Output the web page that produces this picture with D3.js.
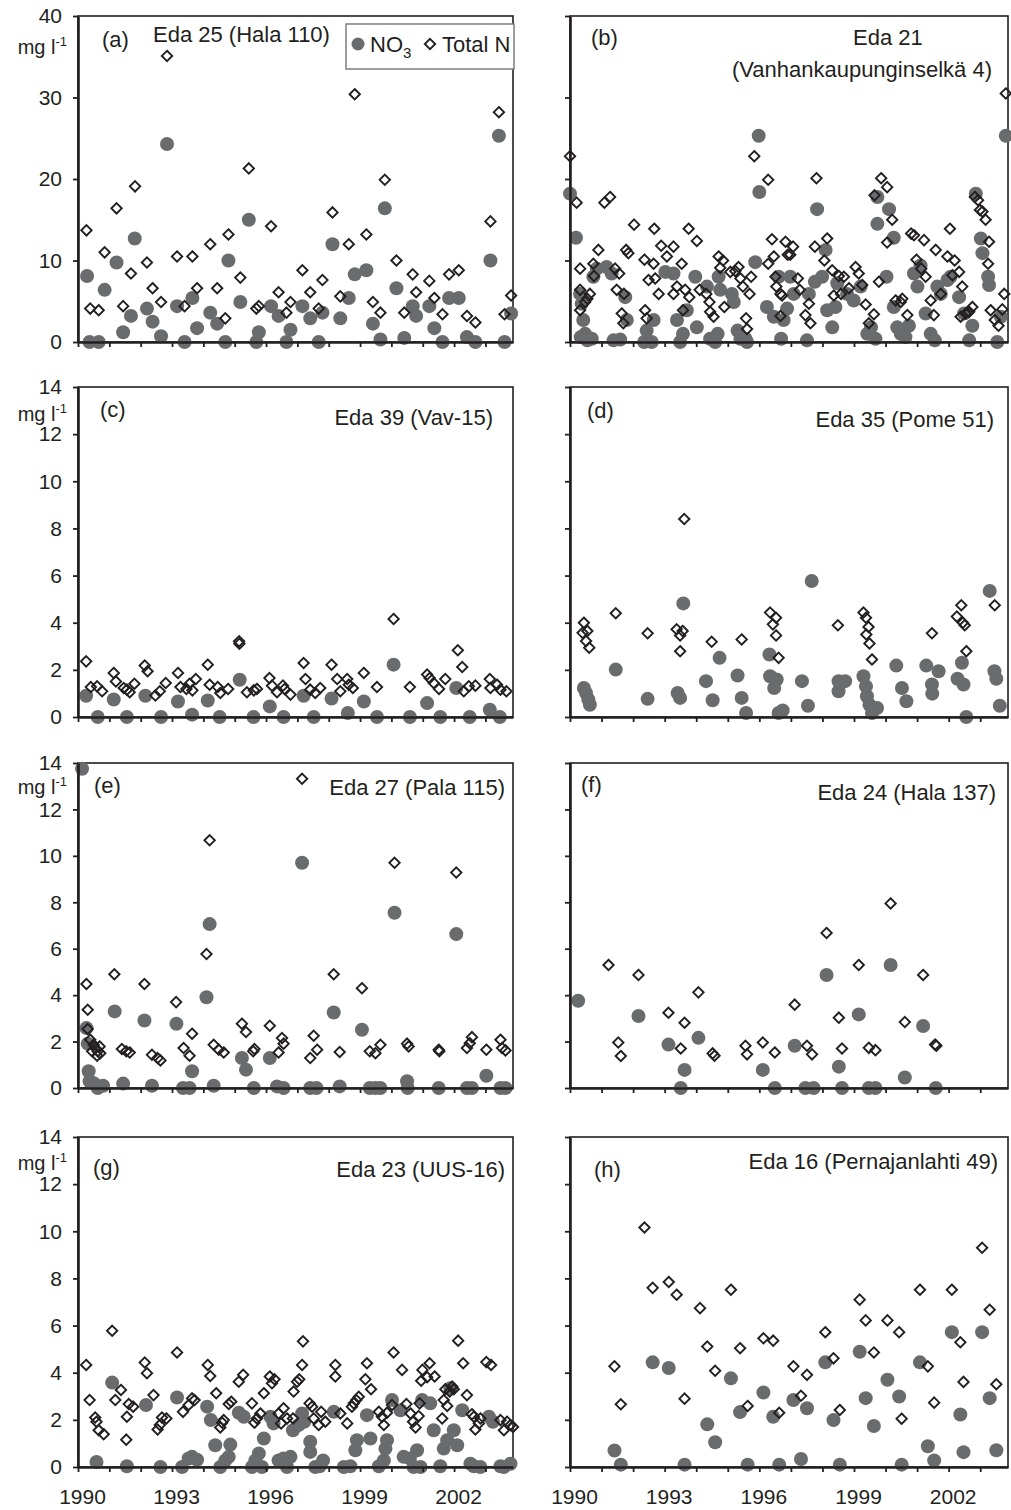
<!DOCTYPE html>
<html>
<head>
<meta charset="utf-8">
<script src="https://cdn.jsdelivr.net/npm/d3@7"></script>
<style>
  body { margin: 0; background: #fff; }
  text { font-family: "Liberation Sans", Arial, sans-serif; fill: #231f20; }
</style>
</head>
<body>
<svg id="chart" width="1011" height="1510"></svg>
<script>
/*
 * NO3 and total N concentrations at eight stations, 1990-2003.
 * Each series is a list of [decimal year, mg/l] pairs.
 */

var yearTicks = [1990, 1991, 1992, 1993, 1994, 1995, 1996, 1997, 1998, 1999, 2000, 2001, 2002, 2003];
var yearLabels = [1990, 1993, 1996, 1999, 2002];
var ticksBig = [0, 10, 20, 30, 40];
var ticksSmall = [0, 2, 4, 6, 8, 10, 12, 14];

// (a) Eda 25 (Hala 110)
var a_no3 = [[1990.29,8.1],[1990.37,0],[1990.66,0],[1990.85,6.4],[1991.23,9.75],[1991.44,1.2],[1991.69,3.2],[1991.81,12.7],[1992.2,4.1],[1992.38,2.5],[1992.65,0.7],[1992.84,24.3],[1993.16,4.4],[1993.4,0],[1993.65,5.4],[1993.8,1.7],[1994.22,3.6],[1994.44,2.25],[1994.7,0],[1994.8,10.0],[1995.18,4.9],[1995.45,15.0],[1995.69,0],[1995.77,1.2],[1996.16,4.4],[1996.4,3.2],[1996.65,0],[1996.78,1.5],[1997.16,4.4],[1997.41,2.9],[1997.68,0],[1997.8,3.6],[1998.12,12.0],[1998.37,2.9],[1998.64,5.4],[1998.83,8.3],[1999.2,8.8],[1999.41,2.25],[1999.65,0.3],[1999.79,16.4],[2000.16,6.6],[2000.41,0.5],[2000.68,4.4],[2000.79,3.2],[2001.21,4.4],[2001.37,1.7],[2001.63,0],[2001.84,5.4],[2002.15,5.4],[2002.41,0.6],[2002.68,0],[2003.16,10.0],[2003.43,25.3],[2003.61,0],[2003.82,3.5]];
var a_tn = [[1990.27,13.7],[1990.39,4.1],[1990.66,3.9],[1990.85,11.0],[1991.23,16.4],[1991.44,4.4],[1991.69,8.4],[1991.82,19.1],[1992.2,9.75],[1992.38,6.6],[1992.65,4.9],[1992.84,35.1],[1993.16,10.5],[1993.4,4.4],[1993.65,10.5],[1993.8,6.6],[1994.22,12.0],[1994.44,6.6],[1994.7,2.9],[1994.8,13.2],[1995.18,7.9],[1995.45,21.3],[1995.69,4.1],[1995.77,4.4],[1996.16,14.2],[1996.4,6.1],[1996.65,3.6],[1996.78,4.9],[1997.16,8.8],[1997.41,6.1],[1997.68,4.1],[1997.8,7.6],[1998.12,15.9],[1998.37,5.6],[1998.64,12.0],[1998.83,30.4],[1999.2,13.2],[1999.41,4.9],[1999.65,3.6],[1999.79,19.9],[2000.16,10.0],[2000.41,3.6],[2000.68,8.3],[2000.79,6.1],[2001.21,7.5],[2001.37,5.4],[2001.63,3.4],[2001.84,8.3],[2002.15,8.8],[2002.41,3.2],[2002.68,2.4],[2003.16,14.8],[2003.43,28.2],[2003.61,3.4],[2003.82,5.7]];

// (b) Eda 21 (Vanhankaupunginselkä 4)
var b_no3 = [[1990.0,18.2],[1990.19,12.8],[1990.32,5.9],[1990.37,4.7],[1990.42,2.7],[1990.48,1.0],[1990.34,0.6],[1990.55,0.2],[1990.69,0.4],[1990.74,8.0],[1990.85,9.0],[1991.16,9.2],[1991.32,8.4],[1991.38,0.2],[1991.59,0.3],[1991.8,2.7],[1991.75,5.5],[1992.35,0],[1992.43,1.4],[1992.59,0],[1992.65,2.7],[1993.02,8.6],[1993.28,8.4],[1993.39,2.7],[1993.49,0],[1993.58,1.0],[1993.7,3.9],[1993.97,8.0],[1994.02,1.8],[1994.34,6.8],[1994.44,0.4],[1994.6,0],[1994.68,1.0],[1994.71,8.0],[1994.76,6.4],[1995.13,5.9],[1995.19,4.9],[1995.31,1.4],[1995.4,0.4],[1995.56,0.4],[1995.61,0],[1995.87,9.8],[1995.98,25.3],[1996.0,18.4],[1996.24,4.3],[1996.46,3.1],[1996.61,8.0],[1996.69,0.4],[1996.77,2.7],[1996.88,4.1],[1996.98,8.0],[1997.09,5.9],[1997.51,0.2],[1997.57,5.9],[1997.76,7.4],[1997.83,16.3],[1998.1,11.3],[1997.99,8.0],[1998.15,3.9],[1998.31,1.8],[1998.41,4.3],[1998.47,7.2],[1998.78,5.9],[1998.99,5.1],[1999.21,6.8],[1999.42,1.0],[1999.54,1.8],[1999.68,0.4],[1999.74,14.5],[1999.74,17.8],[2000.03,8.0],[2000.11,16.3],[2000.26,12.8],[2000.26,4.3],[2000.37,1.8],[2000.48,1.0],[2000.63,0.6],[2000.74,2.0],[2000.9,8.4],[2001.01,6.8],[2001.11,9.4],[2001.27,3.5],[2001.43,1.0],[2001.56,0.2],[2001.64,6.8],[2001.75,5.9],[2001.96,7.6],[2002.06,8.0],[2002.33,5.5],[2002.49,3.5],[2002.65,0.2],[2002.75,2.0],[2002.86,18.2],[2003.02,12.7],[2003.07,10.9],[2003.25,8.0],[2003.28,7.0],[2003.54,0],[2003.65,3.1],[2003.81,25.3]];
var b_tn = [[1990.0,22.8],[1990.21,17.1],[1990.32,9.0],[1990.32,6.4],[1990.32,3.9],[1990.48,4.9],[1990.55,5.3],[1990.63,5.9],[1990.74,9.6],[1990.76,8.1],[1990.9,11.3],[1991.09,17.1],[1991.27,17.8],[1991.43,9.0],[1991.48,6.4],[1991.56,8.4],[1991.71,5.9],[1991.64,3.5],[1991.69,2.3],[1991.78,11.3],[1991.85,10.9],[1992.03,14.4],[1992.36,10.1],[1992.38,3.9],[1992.43,2.9],[1992.49,7.6],[1992.65,9.6],[1992.67,13.9],[1992.7,7.8],[1992.81,5.9],[1992.89,11.8],[1993.07,10.5],[1993.28,11.7],[1993.28,5.9],[1993.39,6.8],[1993.54,9.6],[1993.58,3.9],[1993.65,6.4],[1993.76,13.9],[1993.78,5.5],[1994.02,12.4],[1994.11,6.4],[1994.32,5.9],[1994.42,4.9],[1994.44,3.7],[1994.55,3.1],[1994.71,10.5],[1994.76,9.1],[1994.85,10.0],[1994.89,4.3],[1995.08,8.6],[1995.24,8.7],[1995.34,9.2],[1995.4,7.8],[1995.48,6.8],[1995.58,2.9],[1995.61,1.6],[1995.74,8.0],[1995.69,5.9],[1995.84,22.8],[1996.28,19.9],[1996.28,9.6],[1996.4,12.6],[1996.46,10.5],[1996.51,8.0],[1996.54,6.8],[1996.67,5.9],[1996.72,5.7],[1996.67,3.2],[1996.83,12.3],[1996.9,10.7],[1996.98,10.7],[1997.07,11.7],[1997.22,7.8],[1997.28,6.4],[1997.46,3.3],[1997.57,4.7],[1997.62,2.3],[1997.76,11.7],[1997.81,20.1],[1998.06,10.0],[1998.15,12.7],[1998.31,8.8],[1998.36,5.7],[1998.52,8.1],[1998.59,5.9],[1998.68,8.0],[1998.84,6.6],[1999.05,9.2],[1999.15,8.4],[1999.26,7.0],[1999.37,4.6],[1999.47,2.3],[1999.63,3.4],[1999.65,18.0],[1999.79,7.4],[1999.86,20.1],[2000.05,19.0],[2000.05,12.2],[2000.21,15.0],[2000.32,5.1],[2000.48,4.9],[2000.53,5.3],[2000.69,3.3],[2000.81,13.3],[2000.9,13.1],[2000.98,10.1],[2001.13,9.0],[2001.22,12.5],[2001.27,8.0],[2001.43,5.1],[2001.53,3.3],[2001.59,11.3],[2001.75,5.9],[2001.96,10.5],[2002.04,13.9],[2002.12,8.2],[2002.19,10.0],[2002.33,8.6],[2002.38,3.1],[2002.43,6.8],[2002.54,3.5],[2002.65,3.7],[2002.75,4.3],[2002.83,17.8],[2002.93,17.4],[2002.99,16.2],[2003.07,16.0],[2003.17,15.0],[2003.25,9.6],[2003.28,12.3],[2003.33,3.9],[2003.46,2.7],[2003.58,2.0],[2003.7,4.0],[2003.76,5.9],[2003.81,30.5]];

// (c) Eda 39 (Vav-15)
var c_no3 = [[1990.26,0.9],[1990.63,0],[1991.14,0.74],[1991.56,0],[1992.15,0.9],[1992.65,0],[1993.19,0.66],[1993.64,0.1],[1994.14,0.7],[1994.52,0],[1995.16,1.58],[1995.6,0],[1996.12,0.45],[1996.56,0],[1997.2,0.9],[1997.52,0],[1998.09,0.78],[1998.61,0.17],[1999.12,0.66],[1999.54,0],[2000.07,2.22],[2000.59,0],[2001.14,0.59],[2001.56,0],[2002.07,1.23],[2002.5,0],[2003.14,0.31],[2003.46,0]];
var c_tn = [[1990.26,2.36],[1990.41,1.27],[1990.61,1.3],[1990.77,1.09],[1991.14,1.87],[1991.21,1.51],[1991.46,1.23],[1991.56,1.16],[1991.65,1.05],[1991.8,1.41],[1992.13,2.18],[1992.22,1.94],[1992.47,0.91],[1992.61,1.09],[1992.8,1.44],[1993.19,1.87],[1993.27,1.27],[1993.46,1.19],[1993.56,1.41],[1993.65,1.13],[1993.76,1.61],[1994.14,2.22],[1994.2,1.37],[1994.46,1.27],[1994.54,1.02],[1994.79,1.19],[1995.14,3.21],[1995.15,3.11],[1995.39,1.05],[1995.61,1.13],[1995.71,1.19],[1996.11,1.65],[1996.19,1.33],[1996.35,1.05],[1996.54,1.33],[1996.59,1.19],[1996.78,0.95],[1997.2,2.29],[1997.26,1.61],[1997.41,1.16],[1997.57,1.02],[1997.73,1.23],[1998.09,2.22],[1998.27,1.61],[1998.37,1.09],[1998.59,1.61],[1998.64,1.37],[1998.77,1.23],[1999.12,1.87],[1999.54,1.27],[2000.07,4.16],[2000.59,1.27],[2001.14,1.8],[2001.22,1.65],[2001.35,1.44],[2001.52,1.19],[2001.72,1.61],[2002.12,2.83],[2002.26,2.12],[2002.31,1.09],[2002.47,1.3],[2002.68,1.33],[2003.14,1.61],[2003.16,1.23],[2003.37,1.37],[2003.48,1.16],[2003.67,1.09]];

// (d) Eda 35 (Pome 51)
var d_no3 = [[1990.44,1.23],[1990.51,1.02],[1990.58,0.74],[1990.63,0.52],[1991.45,2.01],[1992.46,0.77],[1993.41,1.02],[1993.49,0.81],[1993.59,4.82],[1994.31,1.52],[1994.52,0.71],[1994.74,2.51],[1995.31,1.76],[1995.44,0.81],[1995.58,0.17],[1996.32,2.65],[1996.34,1.73],[1996.55,1.59],[1996.47,1.23],[1996.61,0.17],[1996.74,0.28],[1997.35,1.52],[1997.54,0.48],[1997.66,5.77],[1998.51,1.09],[1998.51,1.52],[1998.72,1.52],[1999.3,1.73],[1999.38,1.3],[1999.41,0.88],[1999.49,0.52],[1999.57,0.17],[1999.73,0.38],[2000.34,2.18],[2000.52,1.23],[2000.66,0.67],[2001.29,2.18],[2001.47,1.38],[2001.48,0.99],[2001.68,1.94],[2002.28,1.62],[2002.42,2.3],[2002.47,1.38],[2002.56,0],[2003.3,5.35],[2003.45,1.94],[2003.51,1.62],[2003.62,0.48]];
var d_tn = [[1990.44,4.0],[1990.4,3.57],[1990.55,3.65],[1990.51,3.22],[1990.61,2.94],[1991.45,4.4],[1992.46,3.55],[1993.38,3.72],[1993.49,3.46],[1993.57,3.65],[1993.49,2.79],[1993.62,8.4],[1994.49,3.19],[1995.44,3.29],[1996.34,4.43],[1996.53,4.21],[1996.43,3.93],[1996.53,3.46],[1996.61,2.51],[1998.49,3.89],[1999.3,4.43],[1999.38,4.21],[1999.46,3.82],[1999.39,3.5],[1999.49,3.12],[1999.57,2.44],[2001.47,3.55],[2002.26,4.26],[2002.4,4.74],[2002.45,4.0],[2002.51,3.89],[2002.56,2.79],[2003.46,4.74]];

// (e) Eda 27 (Pala 115)
var e_no3 = [[1990.13,13.75],[1990.27,2.58],[1990.31,1.91],[1990.34,0.72],[1990.37,0.29],[1990.5,0.21],[1990.63,0],[1990.69,0.07],[1990.8,0.1],[1991.17,3.3],[1991.44,0.19],[1992.12,2.91],[1992.36,0.1],[1993.14,2.77],[1993.35,0],[1993.56,0],[1993.64,0.72],[1994.1,3.91],[1994.2,7.06],[1994.33,0.1],[1995.23,1.29],[1995.36,0.79],[1995.61,0],[1996.12,1.29],[1996.35,0.07],[1996.56,0],[1997.15,9.7],[1997.41,0],[1997.61,0],[1998.16,3.25],[1998.35,0.07],[1999.06,2.51],[1999.31,0],[1999.49,0],[1999.65,0],[2000.1,7.55],[2000.5,0.29],[2000.52,0],[2001.51,0],[2002.07,6.63],[2002.41,0],[2002.57,0],[2003.03,0.53],[2003.48,0],[2003.64,0]];
var e_tn = [[1990.27,4.48],[1990.31,3.37],[1990.31,2.54],[1990.39,2.08],[1990.5,1.86],[1990.55,1.72],[1990.63,1.58],[1990.45,1.58],[1990.69,1.79],[1990.61,1.39],[1990.71,1.5],[1991.16,4.9],[1991.4,1.68],[1991.54,1.58],[1991.65,1.53],[1992.12,4.48],[1992.36,1.43],[1992.54,1.29],[1992.63,1.19],[1993.13,3.7],[1993.37,1.72],[1993.56,1.39],[1993.64,2.34],[1994.1,5.77],[1994.2,10.67],[1994.33,1.86],[1994.49,1.65],[1994.65,1.53],[1995.23,2.77],[1995.36,2.41],[1995.59,1.58],[1995.63,1.68],[1996.12,2.68],[1996.4,1.53],[1996.51,2.15],[1996.56,1.91],[1997.15,13.32],[1997.41,1.29],[1997.52,2.25],[1997.63,1.65],[1998.16,4.9],[1998.35,1.55],[1999.06,4.3],[1999.31,1.58],[1999.49,1.5],[1999.65,1.86],[2000.1,9.7],[2000.5,1.91],[2000.55,1.79],[2001.51,1.65],[2001.53,1.58],[2002.07,9.28],[2002.41,1.72],[2002.5,1.93],[2002.57,2.19],[2003.03,1.65],[2003.48,2.08],[2003.53,1.72],[2003.64,1.62]];

// (f) Eda 24 (Hala 137)
var f_no3 = [[1990.26,3.76],[1992.17,3.1],[1993.12,1.87],[1993.51,0],[1993.63,0.78],[1994.07,2.16],[1996.11,0.78],[1996.49,0],[1997.12,1.82],[1997.46,0],[1997.72,0],[1998.13,4.87],[1998.52,0.92],[1998.62,0],[1999.15,3.17],[1999.47,0],[1999.68,0],[2000.16,5.3],[2000.61,0.45],[2001.19,2.67],[2001.59,0]];
var f_tn = [[1991.22,5.3],[1991.53,1.96],[1991.61,1.38],[1992.17,4.87],[1993.12,3.24],[1993.51,1.7],[1993.63,2.81],[1994.07,4.12],[1994.52,1.49],[1994.58,1.39],[1995.56,1.82],[1995.61,1.45],[1996.11,1.96],[1996.49,1.53],[1997.12,3.59],[1997.51,1.82],[1997.67,1.45],[1998.13,6.68],[1998.52,3.03],[1998.62,1.7],[1999.15,5.3],[1999.47,1.73],[1999.68,1.63],[2000.16,7.95],[2000.61,2.84],[2001.19,4.87],[2001.57,1.87],[2001.61,1.82]];

// (g) Eda 23 (UUS-16)
var g_no3 = [[1990.59,0.21],[1991.09,3.58],[1991.56,0.03],[1992.17,2.63],[1992.63,0],[1993.16,2.95],[1993.32,0],[1993.53,0.36],[1993.64,0.43],[1993.8,0.31],[1994.12,2.56],[1994.24,1.99],[1994.38,0.92],[1994.54,0],[1994.7,0.28],[1994.81,0.43],[1994.86,0.95],[1995.13,2.3],[1995.29,2.13],[1995.55,0],[1995.66,0.28],[1995.77,0.57],[1995.93,1.21],[1995.87,0],[1996.14,2.13],[1996.24,1.85],[1996.4,0.28],[1996.56,0.36],[1996.67,0],[1996.78,0.43],[1996.86,1.56],[1997.04,1.78],[1997.15,2.27],[1997.22,1.92],[1997.41,1.07],[1997.41,0.64],[1997.57,0],[1997.71,0.03],[1997.82,0.28],[1998.16,2.34],[1998.48,0],[1998.69,0.03],[1998.85,0.71],[1998.9,1.14],[1999.22,2.2],[1999.33,1.21],[1999.6,0.03],[1999.76,0.28],[1999.81,0.78],[1999.86,1.14],[2000.02,2.84],[2000.29,2.41],[2000.39,0.43],[2000.59,0.36],[2000.71,0],[2000.82,0.71],[2000.93,0],[2000.98,2.84],[2001.24,2.7],[2001.35,1.56],[2001.56,0.03],[2001.67,0.78],[2001.78,1.14],[2001.88,3.34],[2001.99,1.56],[2002.1,0.92],[2002.26,2.41],[2002.52,0.14],[2002.63,0.03],[2002.84,0],[2003.11,2.13],[2003.24,1.92],[2003.48,0.03],[2003.59,0],[2003.8,0.14]];
var g_tn = [[1990.26,4.33],[1990.37,2.84],[1990.55,2.1],[1990.59,1.92],[1990.66,1.56],[1990.82,1.39],[1991.09,5.78],[1991.19,2.84],[1991.37,3.27],[1991.54,1.16],[1991.56,2.13],[1991.62,2.67],[1991.76,2.56],[1992.13,4.43],[1992.2,3.98],[1992.41,3.05],[1992.54,1.59],[1992.61,1.78],[1992.68,2.1],[1992.82,2.06],[1993.16,4.86],[1993.35,2.34],[1993.53,2.63],[1993.64,2.91],[1993.72,2.84],[1994.14,4.33],[1994.22,3.86],[1994.41,3.13],[1994.54,1.68],[1994.6,1.88],[1994.65,1.99],[1994.81,2.67],[1994.89,2.77],[1995.13,3.62],[1995.27,3.91],[1995.55,2.7],[1995.63,1.88],[1995.71,2.06],[1995.82,2.27],[1995.93,3.13],[1996.12,3.84],[1996.19,3.55],[1996.27,3.72],[1996.4,2.27],[1996.48,1.85],[1996.56,2.49],[1996.67,2.06],[1996.86,2.06],[1996.88,3.2],[1996.99,3.62],[1997.06,3.72],[1997.15,4.33],[1997.18,5.33],[1997.39,2.7],[1997.47,2.56],[1997.52,2.06],[1997.68,1.78],[1997.76,2.34],[1997.89,1.92],[1998.21,4.33],[1998.21,3.84],[1998.37,2.27],[1998.59,1.85],[1998.74,2.56],[1998.8,2.7],[1998.88,2.84],[1998.96,2.98],[1999.17,3.72],[1999.22,4.4],[1999.35,3.3],[1999.6,2.34],[1999.7,2.13],[1999.76,1.78],[1999.86,2.3],[2000.02,2.63],[2000.07,4.86],[2000.34,4.12],[2000.48,2.67],[2000.61,2.27],[2000.69,1.92],[2000.77,1.68],[2000.87,2.16],[2000.9,2.7],[2000.95,3.66],[2000.99,4.12],[2001.14,3.81],[2001.22,4.4],[2001.38,3.84],[2001.62,2.06],[2001.67,2.84],[2001.72,3.3],[2001.78,2.59],[2001.86,3.2],[2001.94,3.41],[2001.99,3.3],[2002.13,5.36],[2002.29,4.4],[2002.41,3.05],[2002.57,2.24],[2002.63,2.13],[2002.68,1.59],[2002.79,1.85],[2002.84,2.06],[2003.03,4.45],[2003.18,4.33],[2003.48,1.99],[2003.59,1.56],[2003.69,1.92],[2003.8,1.78],[2003.88,1.7]];

// (h) Eda 16 (Pernajanlahti 49)
var h_no3 = [[1991.41,0.7],[1991.61,0.1],[1992.62,4.44],[1993.13,4.2],[1993.63,0.1],[1994.35,1.81],[1994.6,1.05],[1995.1,3.76],[1995.39,2.33],[1995.63,0.1],[1996.13,3.16],[1996.44,2.13],[1996.63,0.1],[1997.08,2.84],[1997.32,0.34],[1997.51,2.49],[1998.09,4.44],[1998.35,1.99],[1998.55,0.1],[1999.18,4.89],[1999.37,2.92],[1999.63,1.74],[2000.06,3.7],[2000.43,2.99],[2000.51,0.1],[2001.09,4.44],[2001.34,0.88],[2001.54,0.28],[2002.1,5.72],[2002.37,2.23],[2002.47,0.63],[2003.06,5.72],[2003.3,2.92],[2003.51,0.71]];
var h_tn = [[1991.41,4.27],[1991.61,2.66],[1992.36,10.16],[1992.62,7.6],[1993.13,7.85],[1993.38,7.31],[1993.63,2.9],[1994.12,6.74],[1994.35,5.11],[1994.6,4.08],[1995.1,7.52],[1995.39,5.04],[1995.63,2.59],[1996.13,5.46],[1996.44,5.36],[1996.63,2.3],[1997.08,4.27],[1997.32,3.02],[1997.51,3.91],[1998.09,5.72],[1998.35,4.61],[1998.55,2.42],[1999.18,7.1],[1999.37,6.22],[1999.63,4.86],[2000.06,6.22],[2000.43,5.72],[2000.51,2.05],[2001.09,7.52],[2001.34,4.27],[2001.54,2.73],[2002.1,7.52],[2002.37,5.29],[2002.47,3.61],[2003.06,9.3],[2003.3,6.67],[2003.51,3.51]];

// Layout of the 4 x 2 grid of plots.
var cols = [{x0: 78, x1: 513}, {x0: 570, x1: 1008}];
var rows = [{top: 16, bottom: 342}, {top: 387, bottom: 717}, {top: 763, bottom: 1088}, {top: 1137, bottom: 1467}];
var xDomain = [1990, 2003.88];
var grey = '#696b6d';
var ink = '#231f20';

// Title lines: anchor 'start' is measured from x0, 'end' from x1.
var panels = [
  {col: 0, row: 0, no3: a_no3, tn: a_tn, yMax: 40, yTicks: ticksBig, letter: [24, 31], unitDy: 38,
    title: [{text: 'Eda 25 (Hala 110)', anchor: 'start', dx: 75, dy: 26}], legend: true},
  {col: 1, row: 0, no3: b_no3, tn: b_tn, yMax: 40, yTicks: ticksBig, letter: [21, 29],
    title: [{text: 'Eda 21', anchor: 'start', dx: 283, dy: 29},
            {text: '(Vanhankaupunginselkä 4)', anchor: 'end', dx: 16, dy: 61}]},
  {col: 0, row: 1, no3: c_no3, tn: c_tn, yMax: 14, yTicks: ticksSmall, letter: [22, 30], unitDy: 34,
    title: [{text: 'Eda 39 (Vav-15)', anchor: 'end', dx: 20, dy: 38}]},
  {col: 1, row: 1, no3: d_no3, tn: d_tn, yMax: 14, yTicks: ticksSmall, letter: [17, 31],
    title: [{text: 'Eda 35 (Pome 51)', anchor: 'end', dx: 14, dy: 40}]},
  {col: 0, row: 2, no3: e_no3, tn: e_tn, yMax: 14, yTicks: ticksSmall, letter: [16, 30], unitDy: 31,
    title: [{text: 'Eda 27 (Pala 115)', anchor: 'end', dx: 8, dy: 32}]},
  {col: 1, row: 2, no3: f_no3, tn: f_tn, yMax: 14, yTicks: ticksSmall, letter: [11, 29],
    title: [{text: 'Eda 24 (Hala 137)', anchor: 'end', dx: 12, dy: 37}]},
  {col: 0, row: 3, no3: g_no3, tn: g_tn, yMax: 14, yTicks: ticksSmall, letter: [15, 38], unitDy: 33,
    title: [{text: 'Eda 23 (UUS-16)', anchor: 'end', dx: 8, dy: 40}]},
  {col: 1, row: 3, no3: h_no3, tn: h_tn, yMax: 14, yTicks: ticksSmall, letter: [24, 40],
    title: [{text: 'Eda 16 (Pernajanlahti 49)', anchor: 'end', dx: 10, dy: 32}]}
];
var letters = ['(a)', '(b)', '(c)', '(d)', '(e)', '(f)', '(g)', '(h)'];

var svg = d3.select('#chart');

function diamondPath(r) {
  return 'M0,' + (-r) + 'L' + r + ',0L0,' + r + 'L' + (-r) + ',0Z';
}

function drawPanel(p, i) {
  var c = cols[p.col], r = rows[p.row];
  var x = d3.scaleLinear().domain(xDomain).range([c.x0, c.x1]);
  var y = d3.scaleLinear().domain([0, p.yMax]).range([r.bottom, r.top]);
  var g = svg.append('g');

  // thin frame on top and right
  g.append('rect')
    .attr('x', c.x0).attr('y', r.top)
    .attr('width', c.x1 - c.x0).attr('height', r.bottom - r.top)
    .attr('fill', 'none').attr('stroke', ink).attr('stroke-width', 1.6);

  // NO3 first, diamonds drawn over them
  g.selectAll('.no3').data(p.no3).enter().append('circle')
    .attr('class', 'no3')
    .attr('cx', function(d) { return x(d[0]); })
    .attr('cy', function(d) { return y(d[1]); })
    .attr('r', 7)
    .attr('fill', grey);

  g.selectAll('.tn').data(p.tn).enter().append('path')
    .attr('class', 'tn')
    .attr('d', diamondPath(5.2))
    .attr('transform', function(d) { return 'translate(' + x(d[0]) + ',' + y(d[1]) + ')'; })
    .attr('fill', 'none').attr('stroke', ink).attr('stroke-width', 1.9);

  // Y axis
  var yAxis = d3.axisLeft(y).tickValues(p.yTicks).tickSize(5).tickSizeOuter(0).tickPadding(11);
  if (p.col === 1) { yAxis.tickFormat(''); }
  var ya = g.append('g').attr('transform', 'translate(' + c.x0 + ',0)').call(yAxis);

  // X axis, labels only on the bottom row
  var xAxis = d3.axisBottom(x).tickValues(yearTicks).tickSize(5).tickSizeOuter(0).tickPadding(17)
    .tickFormat(function(d) {
      return (p.row === 3 && yearLabels.indexOf(d) >= 0) ? String(d) : '';
    });
  var xa = g.append('g').attr('transform', 'translate(0,' + r.bottom + ')').call(xAxis);
  xa.selectAll('text').attr('dx', 4);

  [ya, xa].forEach(function(a) {
    a.select('.domain').attr('stroke', ink).attr('stroke-width', 2.6);
    a.selectAll('.tick line').attr('stroke', ink).attr('stroke-width', 1.8);
    a.selectAll('text').attr('font-size', 21).attr('font-family', '"Liberation Sans", Arial, sans-serif').attr('fill', ink);
  });

  // unit label on the left column
  if (p.unitDy !== undefined) {
    var u = g.append('text')
      .attr('x', 67).attr('y', r.top + p.unitDy)
      .attr('text-anchor', 'end').attr('font-size', 20);
    u.append('tspan').text('mg l');
    u.append('tspan').attr('font-size', 13).attr('dy', -8).text('-1');
  }

  // panel letter and station name
  g.append('text')
    .attr('x', c.x0 + p.letter[0]).attr('y', r.top + p.letter[1])
    .attr('font-size', 22).text(letters[i]);
  p.title.forEach(function(t) {
    g.append('text')
      .attr('x', t.anchor === 'end' ? c.x1 - t.dx : c.x0 + t.dx)
      .attr('y', r.top + t.dy)
      .attr('text-anchor', t.anchor)
      .attr('font-size', 22).text(t.text);
  });

  if (p.legend) { drawLegend(g); }
}

function drawLegend(g) {
  var lg = g.append('g');
  lg.append('rect')
    .attr('x', 346).attr('y', 24).attr('width', 168).attr('height', 45)
    .attr('fill', '#fff').attr('stroke', '#7d7d7d').attr('stroke-width', 1.5);
  lg.append('circle').attr('cx', 358).attr('cy', 44).attr('r', 6.5).attr('fill', grey);
  var t = lg.append('text').attr('x', 370).attr('y', 52).attr('font-size', 22);
  t.append('tspan').text('NO');
  t.append('tspan').attr('font-size', 15).attr('dy', 6).text('3');
  lg.append('path').attr('d', diamondPath(5.2)).attr('transform', 'translate(430,44)')
    .attr('fill', 'none').attr('stroke', ink).attr('stroke-width', 1.9);
  lg.append('text').attr('x', 442).attr('y', 52).attr('font-size', 22).text('Total N');
}

panels.forEach(drawPanel);
</script>
</body>
</html>
